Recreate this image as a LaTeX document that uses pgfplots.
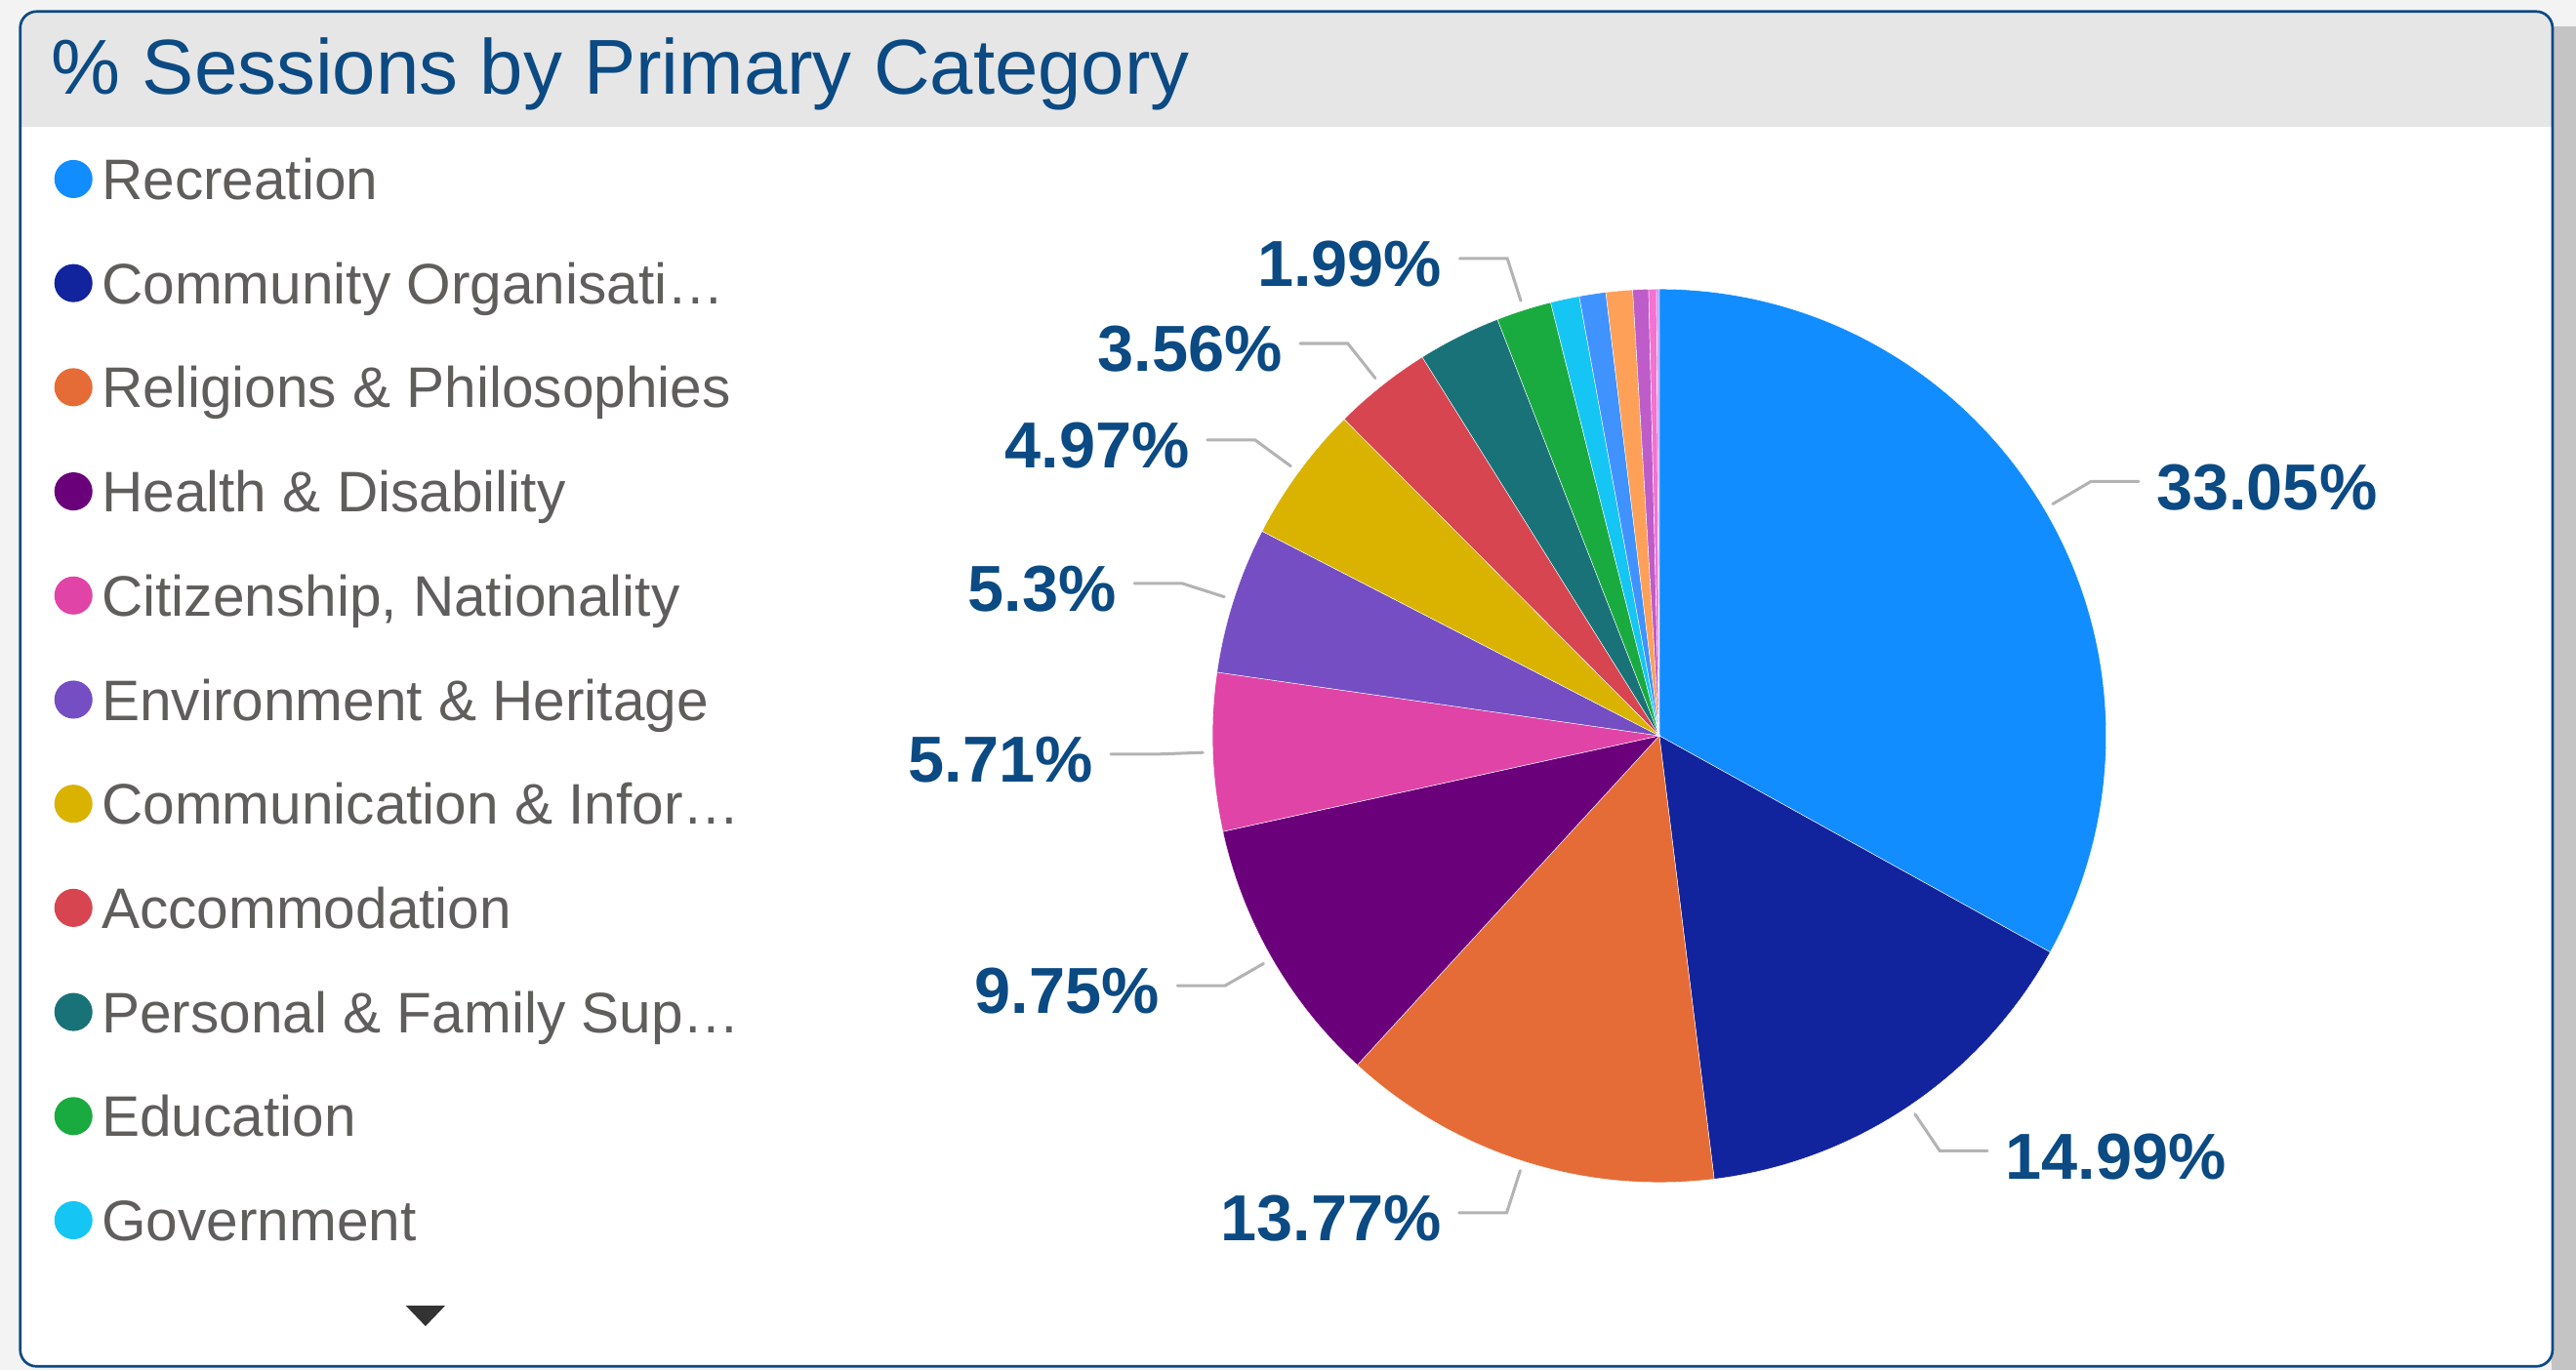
\documentclass[border=0pt]{standalone}
\usepackage{pgfplots}
\pgfplotsset{compat=1.18}
\usepackage{pgfplotstable}
\usepackage{fontspec}
\setmainfont{Liberation Sans}
\definecolor{c1}{HTML}{118DFF}
\definecolor{c2}{HTML}{12239E}
\definecolor{c3}{HTML}{E66C37}
\definecolor{c4}{HTML}{6B007B}
\definecolor{c5}{HTML}{E044A7}
\definecolor{c6}{HTML}{744EC2}
\definecolor{c7}{HTML}{D9B300}
\definecolor{c8}{HTML}{D64550}
\definecolor{c9}{HTML}{197278}
\definecolor{c10}{HTML}{1AAB40}
\definecolor{c11}{HTML}{15C6F4}
\definecolor{c12}{HTML}{4092FF}
\definecolor{c13}{HTML}{FFA058}
\definecolor{c14}{HTML}{BE5DC9}
\definecolor{c15}{HTML}{F472D0}
\definecolor{c16}{HTML}{B5A1FF}
\definecolor{lblblue}{HTML}{0B4A83}
\definecolor{legtext}{HTML}{605E5C}
\definecolor{leader}{HTML}{B3B3B3}
\definecolor{titlebar}{HTML}{E6E6E6}
\definecolor{pagebg}{HTML}{F3F3F3}
\definecolor{shadowc}{HTML}{C4C4C4}
\definecolor{tri}{HTML}{333333}

\pgfplotstableread[col sep=semicolon]{
name;value;color;lab
Recreation;33.05;c1;1
Community Organisati…;14.99;c2;1
Religions \& Philosophies;13.77;c3;1
Health \& Disability;9.75;c4;1
Citizenship, Nationality;5.71;c5;1
Environment \& Heritage;5.3;c6;1
Communication \& Infor…;4.97;c7;1
Accommodation;3.56;c8;1
Personal \& Family Sup…;3.00;c9;0
Education;1.99;c10;1
Government;1.04;c11;0
Other1;0.96;c12;0
Other2;0.96;c13;0
Other3;0.57;c14;0
Other4;0.28;c15;0
Other5;0.10;c16;0
}\piedata

\begin{document}
\begin{tikzpicture}
\begin{axis}[
  scale only axis, width=784pt, height=417pt,
  xmin=0, xmax=1568, ymin=0, ymax=834, y dir=reverse,
  hide axis, clip=false]
\pgfplotsextra{
  % background and panel
  \fill[pagebg] (axis cs:0,0) rectangle (axis cs:1568,834);
  \fill[shadowc] (axis cs:1553,16) rectangle (axis cs:1568,834);
  \fill[white, rounded corners=5pt] (axis cs:12.3,7) rectangle (axis cs:1553.7,832);
  \begin{scope}
    \clip[rounded corners=5pt] (axis cs:12.3,7) rectangle (axis cs:1553.7,832);
    \fill[titlebar] (axis cs:0,0) rectangle (axis cs:1568,77.2);
  \end{scope}
  \draw[lblblue, line width=0.8pt, rounded corners=5pt] (axis cs:12.3,7) rectangle (axis cs:1553.7,832);
  \node[anchor=base west, inner sep=0, text=lblblue, font=\fontsize{23.7}{28}\selectfont] at (axis cs:31,57.5) {\% Sessions by Primary Category};
  % pie slices
  \def\cum{0}
  \pgfplotsforeachungrouped \i in {0,...,15}{%
    \pgfplotstablegetelem{\i}{value}\of\piedata \let\v\pgfplotsretval
    \pgfplotstablegetelem{\i}{color}\of\piedata \let\col\pgfplotsretval
    \pgfmathsetmacro\aA{90-3.6*\cum}%
    \pgfmathsetmacro\aB{90-3.6*(\cum+\v)}%
    \pgfmathsetmacro\cum{\cum+\v}%
    \fill[\col, draw=white, line width=0.12pt] (axis cs:1010,448) -- (axis cs:{1010+272*cos(\aA)},{448-272*sin(\aA)}) arc[start angle=\aA, end angle=\aB, radius=136pt] -- cycle;
  }
  % labels
  \def\cum{0}
  \pgfplotsforeachungrouped \i in {0,...,15}{%
    \pgfplotstablegetelem{\i}{value}\of\piedata \let\v\pgfplotsretval
    \pgfplotstablegetelem{\i}{lab}\of\piedata \let\lab\pgfplotsretval
    \pgfmathsetmacro\m{90-3.6*(\cum+\v/2)}%
    \pgfmathsetmacro\cum{\cum+\v}%
    \ifnum\lab=1
      \pgfmathtruncatemacro\dir{cos(\m)>=0 ? 1 : -1}%
      \ifnum\dir>0 \def\anc{west}\else\def\anc{east}\fi
      \draw[leader, line width=0.9pt, line cap=round] (axis cs:{1010+278*cos(\m)},{448-278*sin(\m)}) -- (axis cs:{1010+305*cos(\m)},{448-305*sin(\m)}) -- ++(\dir*14.5pt,0) node[anchor=\anc, inner sep=0, xshift=\dir*5pt, yshift=-1.75pt, text=lblblue, font=\fontsize{19.8}{22}\selectfont\bfseries] {\v\%};
    \fi
  }
  % legend
  \pgfplotsforeachungrouped \i in {0,...,10}{%
    \pgfplotstablegetelem{\i}{name}\of\piedata \let\nm\pgfplotsretval
    \pgfplotstablegetelem{\i}{color}\of\piedata \let\col\pgfplotsretval
    \fill[\col] (axis cs:44.7,{109+63.4*\i}) circle[radius=5.8pt];
    \node[anchor=base west, inner sep=0, text=legtext, font=\fontsize{17.4}{20}\selectfont] at (axis cs:61.5,{121.5+63.4*\i}) {\nm};
  }
  \fill[tri] (axis cs:247,795) -- (axis cs:271,795) -- (axis cs:259,807.5) -- cycle;
}
\end{axis}
\end{tikzpicture}
\end{document}
